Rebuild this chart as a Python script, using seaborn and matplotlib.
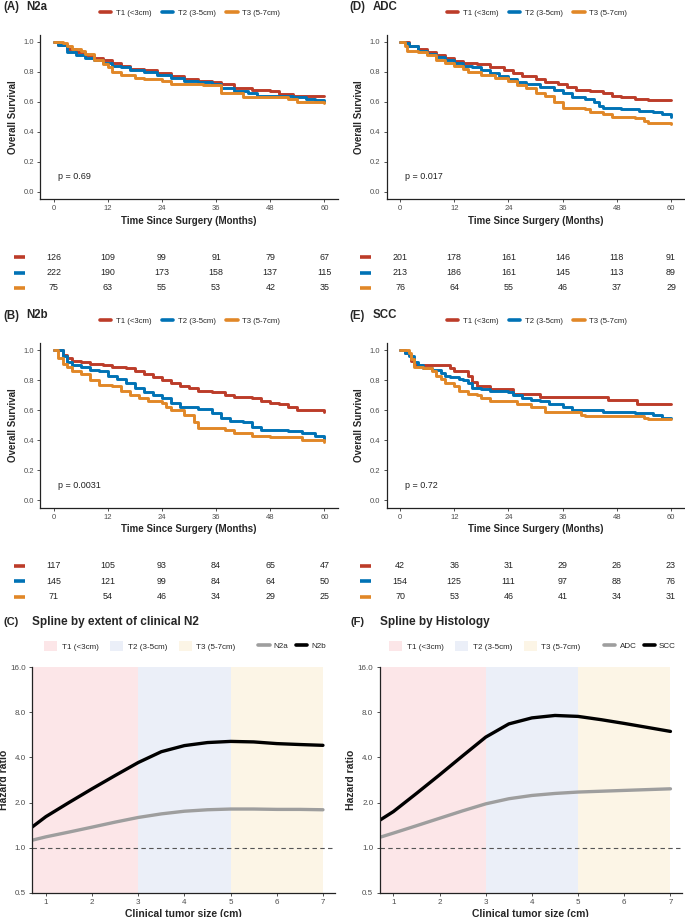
import numpy as np
import pandas as pd
import matplotlib
matplotlib.use("Agg")
import matplotlib.pyplot as plt
import matplotlib.transforms as mtransforms
from matplotlib.lines import Line2D
from matplotlib.patches import Patch
import seaborn as sns

sns.set_style("white")
plt.rcParams["font.family"] = ["Liberation Sans", "DejaVu Sans"]

W, H = 685, 917

# ---- data ----
groups = ["T1 (<3cm)", "T2 (3-5cm)", "T3 (5-7cm)"]
km_colors = ["#BC3C29", "#0072B5", "#E18727"]
risk_times = [0, 12, 24, 36, 48, 60]

# (A) N2a
a_t1_time = [0, 1, 3, 5, 7, 9, 11, 13, 15, 17, 20, 23, 26, 29, 32, 35, 37, 40, 44, 48, 50, 53, 60]
a_t1_surv = [1.0, 0.98, 0.95, 0.93, 0.91, 0.89, 0.88, 0.86, 0.84, 0.82, 0.81, 0.79, 0.77, 0.75, 0.74, 0.73, 0.72, 0.69, 0.68, 0.67, 0.65, 0.64, 0.64]
a_t2_time = [0, 1, 3, 5, 7, 9, 11, 13, 15, 17, 20, 23, 26, 29, 32, 35, 37, 40, 43, 45, 50, 53, 56, 58, 60]
a_t2_surv = [1.0, 0.98, 0.93, 0.91, 0.89, 0.88, 0.86, 0.84, 0.83, 0.81, 0.80, 0.78, 0.76, 0.74, 0.73, 0.72, 0.69, 0.67, 0.66, 0.64, 0.64, 0.63, 0.62, 0.61, 0.60]
a_t3_time = [0, 2, 3, 4, 6, 7, 9, 11, 12, 13, 15, 18, 20, 24, 26, 33, 37, 42, 48, 52, 54, 60]
a_t3_surv = [1.0, 0.99, 0.97, 0.95, 0.94, 0.92, 0.88, 0.85, 0.83, 0.80, 0.78, 0.76, 0.75, 0.74, 0.72, 0.71, 0.66, 0.63, 0.63, 0.62, 0.60, 0.59]
a_risk = [[126, 109, 99, 91, 79, 67], [222, 190, 173, 158, 137, 115], [75, 63, 55, 53, 42, 35]]

# (B) N2b
b_t1_time = [0, 1.5, 2, 3, 4, 6, 8, 11, 13, 16, 18, 20, 22, 24, 26, 28, 30, 32, 35, 38, 40, 44, 46, 48, 50, 52, 54, 60]
b_t1_surv = [1.0, 1.0, 0.97, 0.95, 0.93, 0.92, 0.91, 0.90, 0.89, 0.88, 0.86, 0.84, 0.82, 0.80, 0.78, 0.76, 0.75, 0.73, 0.72, 0.70, 0.69, 0.68, 0.66, 0.65, 0.64, 0.62, 0.60, 0.59]
b_t2_time = [0, 1.5, 2, 3, 4, 6, 8, 10, 12, 14, 16, 18, 20, 22, 24, 26, 28, 32, 35, 37, 39, 42, 44, 46, 52, 55, 58, 60]
b_t2_surv = [1.0, 1.0, 0.96, 0.92, 0.90, 0.89, 0.87, 0.86, 0.83, 0.81, 0.78, 0.75, 0.72, 0.70, 0.68, 0.65, 0.62, 0.61, 0.58, 0.55, 0.53, 0.52, 0.49, 0.47, 0.46, 0.45, 0.43, 0.41]
b_t3_time = [0, 1, 2, 3, 4, 6, 8, 10, 13, 15, 17, 19, 21, 24, 25, 26, 29, 31, 32, 38, 40, 44, 48, 55, 60]
b_t3_surv = [1.0, 0.95, 0.91, 0.89, 0.86, 0.84, 0.80, 0.77, 0.76, 0.73, 0.70, 0.68, 0.66, 0.65, 0.62, 0.60, 0.57, 0.52, 0.48, 0.47, 0.45, 0.43, 0.42, 0.40, 0.39]
b_risk = [[117, 105, 93, 84, 65, 47], [145, 121, 99, 84, 64, 50], [71, 54, 46, 34, 29, 25]]

# (D) ADC
d_t1_time = [0, 1, 2, 4, 6, 8, 10, 12, 14, 17, 20, 23, 25, 27, 30, 32, 35, 37, 39, 42, 45, 47, 49, 52, 55, 60]
d_t1_surv = [1.0, 1.0, 0.97, 0.95, 0.93, 0.91, 0.89, 0.87, 0.86, 0.85, 0.83, 0.81, 0.79, 0.77, 0.75, 0.73, 0.72, 0.70, 0.68, 0.67, 0.66, 0.64, 0.63, 0.62, 0.61, 0.61]
d_t2_time = [0, 1, 2, 4, 6, 8, 10, 12, 14, 16, 18, 20, 22, 24, 26, 28, 31, 34, 36, 38, 41, 43, 44, 45, 49, 53, 56, 58, 60]
d_t2_surv = [1.0, 0.99, 0.97, 0.94, 0.92, 0.90, 0.88, 0.86, 0.84, 0.83, 0.81, 0.79, 0.77, 0.75, 0.73, 0.72, 0.70, 0.68, 0.66, 0.63, 0.62, 0.60, 0.57, 0.56, 0.55, 0.54, 0.53, 0.52, 0.50]
d_t3_time = [0, 1, 1.5, 4, 6, 8, 10, 12, 14, 15, 18, 21, 24, 26, 28, 30, 32, 34, 36, 41, 42, 45, 47, 52, 54, 55, 60]
d_t3_surv = [1.0, 0.97, 0.94, 0.93, 0.91, 0.88, 0.86, 0.84, 0.82, 0.80, 0.78, 0.76, 0.74, 0.71, 0.69, 0.66, 0.64, 0.60, 0.56, 0.55, 0.53, 0.52, 0.50, 0.49, 0.47, 0.46, 0.45]
d_risk = [[201, 178, 161, 146, 118, 91], [213, 186, 161, 145, 113, 89], [76, 64, 55, 46, 37, 29]]

# (E) SCC
e_t1_time = [0, 1, 2, 2.5, 3, 10, 11, 12, 15, 16, 17, 20, 24, 25, 30, 31, 45, 46, 52, 52.5, 60]
e_t1_surv = [1.0, 0.98, 0.97, 0.93, 0.90, 0.90, 0.88, 0.86, 0.83, 0.79, 0.76, 0.74, 0.74, 0.71, 0.71, 0.69, 0.69, 0.67, 0.67, 0.64, 0.64]
e_t2_time = [0, 1, 2, 3, 4, 5, 7, 9, 10, 11, 13, 14, 15, 16, 18, 20, 24, 25, 27, 29, 31, 33, 36, 38, 45, 52, 56, 58, 60]
e_t2_surv = [1.0, 0.98, 0.96, 0.92, 0.90, 0.88, 0.87, 0.85, 0.83, 0.82, 0.81, 0.80, 0.78, 0.75, 0.74, 0.73, 0.72, 0.70, 0.68, 0.67, 0.66, 0.64, 0.62, 0.60, 0.59, 0.58, 0.57, 0.55, 0.55]
e_t3_time = [0, 1, 2, 2.5, 3, 5, 7, 8, 9, 10, 12, 13, 15, 17, 18, 20, 26, 29, 32, 40, 41, 54, 55, 60]
e_t3_surv = [1.0, 1.0, 0.98, 0.94, 0.89, 0.88, 0.86, 0.83, 0.81, 0.78, 0.76, 0.73, 0.71, 0.70, 0.68, 0.66, 0.64, 0.62, 0.59, 0.57, 0.56, 0.55, 0.54, 0.54]
e_risk = [[42, 36, 31, 29, 26, 23], [154, 125, 111, 97, 88, 76], [70, 53, 46, 41, 34, 31]]

# spline panels
tumor_size = [0.7, 1, 1.5, 2, 2.5, 3, 3.5, 4, 4.5, 5, 5.5, 6, 6.5, 7]
hr_n2a = [1.12, 1.18, 1.27, 1.37, 1.48, 1.59, 1.68, 1.75, 1.79, 1.81, 1.81, 1.80, 1.80, 1.79]
hr_n2b = [1.37, 1.61, 2.0, 2.47, 3.03, 3.7, 4.37, 4.8, 5.03, 5.12, 5.08, 4.95, 4.88, 4.82]
hr_adc = [1.17, 1.25, 1.40, 1.57, 1.76, 1.96, 2.12, 2.23, 2.30, 2.35, 2.38, 2.41, 2.44, 2.47]
hr_scc = [1.52, 1.74, 2.3, 3.06, 4.1, 5.47, 6.7, 7.35, 7.63, 7.52, 7.15, 6.75, 6.35, 5.97]
band_labels = ["T1 (<3cm)", "T2 (3-5cm)", "T3 (5-7cm)"]
band_edges = [(0.7, 3), (3, 5), (5, 7)]
band_colors = ["#FCE6E8", "#EBEFF8", "#FCF5E6"]

fig = plt.figure(figsize=(W / 100, H / 100), dpi=100)


def px_axes(left, top, width, height):
    return fig.add_axes([left / W, 1 - (top + height) / H, width / W, height / H])


def style_axes(ax, tick_size=5.5):
    sns.despine(ax=ax)
    for s in ["left", "bottom"]:
        ax.spines[s].set_color("#222222")
        ax.spines[s].set_linewidth(0.9)
    ax.tick_params(axis="both", length=2.5, width=0.6, color="#333333",
                   labelsize=tick_size, labelcolor="#4D4D4D", pad=2,
                   left=True, bottom=True)


def km_panel(left, top, letter, name, series, risk, pval, leg_cx):
    ax = px_axes(left, top, 298, 164.5)
    rows = []
    for g, (t, s) in zip(groups, series):
        rows.append(pd.DataFrame({"time": t, "surv": s, "group": g}))
    df = pd.concat(rows, ignore_index=True)
    sns.lineplot(data=df, x="time", y="surv", hue="group", hue_order=groups,
                 palette=km_colors, drawstyle="steps-post", lw=2.1,
                 estimator=None, ax=ax)
    ax.get_legend().remove()
    ax.set_xlim(-3, 63)
    ax.set_ylim(-0.05, 1.05)
    ax.set_xticks(risk_times)
    ax.set_yticks([0, 0.2, 0.4, 0.6, 0.8, 1.0])
    ax.set_yticklabels(["0.0", "0.2", "0.4", "0.6", "0.8", "1.0"])
    style_axes(ax)
    ax.set_xlabel("Time Since Surgery (Months)", fontsize=7, fontweight="bold", labelpad=2.5)
    ax.set_ylabel("Overall Survival", fontsize=7, fontweight="bold", labelpad=4)
    ax.text(1, 0.1, "p = " + pval, fontsize=6.5, va="center", ha="left", color="#222222")
    # titles
    fig.text((left - 37) / W, 1 - (top - 27.5) / H, letter, fontsize=8.3, fontweight="bold", va="center")
    fig.text((left - 14) / W, 1 - (top - 27.5) / H, name, fontsize=8.3, fontweight="bold", va="center")
    handles = [Line2D([], [], color=c, lw=2.6) for c in km_colors]
    fig.legend(handles, groups, loc="center", bbox_to_anchor=(leg_cx / W, 1 - (top - 21.5) / H),
               ncol=3, frameon=False, fontsize=5.6, handlelength=1.5,
               handletextpad=0.6, columnspacing=1.3)
    # risk table
    tr = mtransforms.blended_transform_factory(ax.transData, fig.transFigure)
    row_y = [top + 222.5, top + 238, top + 253.5]
    for color, counts, ry in zip(km_colors, risk, row_y):
        ax.plot([-8.8, -6.4], [1 - ry / H] * 2, color=color, lw=2.6,
                transform=tr, clip_on=False, solid_capstyle="butt")
        for t, n in zip(risk_times, counts):
            ax.text(t, 1 - ry / H, str(n), transform=tr, ha="center", va="center",
                    fontsize=6.4, color="#222222")
    return ax


km_panel(40, 34.5, "(A)", "N2a",
         [(a_t1_time, a_t1_surv), (a_t2_time, a_t2_surv), (a_t3_time, a_t3_surv)],
         a_risk, "0.69", 190)
km_panel(386.5, 34.5, "(D)", "ADC",
         [(d_t1_time, d_t1_surv), (d_t2_time, d_t2_surv), (d_t3_time, d_t3_surv)],
         d_risk, "0.017", 537)
km_panel(40, 343, "(B)", "N2b",
         [(b_t1_time, b_t1_surv), (b_t2_time, b_t2_surv), (b_t3_time, b_t3_surv)],
         b_risk, "0.0031", 190)
km_panel(386.5, 343, "(E)", "SCC",
         [(e_t1_time, e_t1_surv), (e_t2_time, e_t2_surv), (e_t3_time, e_t3_surv)],
         e_risk, "0.72", 537)


def spline_panel(left, letter, title, names, hr_a, hr_b, title_x, patch_cx, line_cx):
    top = 667.3
    ax = px_axes(left, top, 302.5, 225.4)
    for (x0, x1), c in zip(band_edges, band_colors):
        ax.axvspan(x0, x1, color=c, lw=0)
    df = pd.DataFrame({
        "size": tumor_size * 2,
        "hr": hr_a + hr_b,
        "group": [names[0]] * len(tumor_size) + [names[1]] * len(tumor_size),
    })
    sns.lineplot(data=df, x="size", y="hr", hue="group", hue_order=names,
                 palette=["#9E9E9E", "#000000"], lw=2.4, estimator=None,
                 legend=False, ax=ax)
    ax.axhline(1.0, color="#555555", lw=0.8, ls=(0, (4, 3)))
    ax.set_yscale("log", base=2)
    ax.set_ylim(0.5, 16)
    ax.set_xlim(0.7, 7.25)
    ticks = [0.5, 1, 2, 4, 8, 16]
    ax.set_yticks(ticks)
    ax.set_yticklabels(["0.5", "1.0", "2.0", "4.0", "8.0", "16.0"])
    ax.minorticks_off()
    ax.set_xticks([1, 2, 3, 4, 5, 6, 7])
    style_axes(ax, tick_size=5.8)
    ax.set_xlabel("Clinical tumor size (cm)", fontsize=7.5, fontweight="bold", labelpad=2)
    ax.set_ylabel("Hazard ratio", fontsize=7.5, fontweight="bold", labelpad=1)
    fig.text((left - 29) / W, 1 - 622 / H, letter, fontsize=8, fontweight="bold", va="center")
    fig.text(title_x / W, 1 - 622 / H, title, fontsize=8.5, fontweight="bold", va="center")
    patches = [Patch(facecolor=c, edgecolor="none") for c in band_colors]
    fig.legend(patches, band_labels, loc="center", bbox_to_anchor=((patch_cx + 3) / W, 1 - 646 / H),
               ncol=3, frameon=False, fontsize=5.8, handlelength=1.6, handleheight=1.6,
               handletextpad=0.6, columnspacing=1.4)
    lines = [Line2D([], [], color="#9E9E9E", lw=2.6), Line2D([], [], color="#000000", lw=2.6)]
    fig.legend(lines, names, loc="center", bbox_to_anchor=(line_cx / W, 1 - 646 / H),
               ncol=2, frameon=False, fontsize=5.8, handlelength=1.4,
               handletextpad=0.5, columnspacing=0.9)


spline_panel(32, "(C)", "Spline by extent of clinical N2", ["N2a", "N2b"],
             hr_n2a, hr_n2b, 32, 137, 292)
spline_panel(379.5, "(F)", "Spline by Histology", ["ADC", "SCC"],
             hr_adc, hr_scc, 380, 482, 640)

fig.savefig("out.png", dpi=100)
